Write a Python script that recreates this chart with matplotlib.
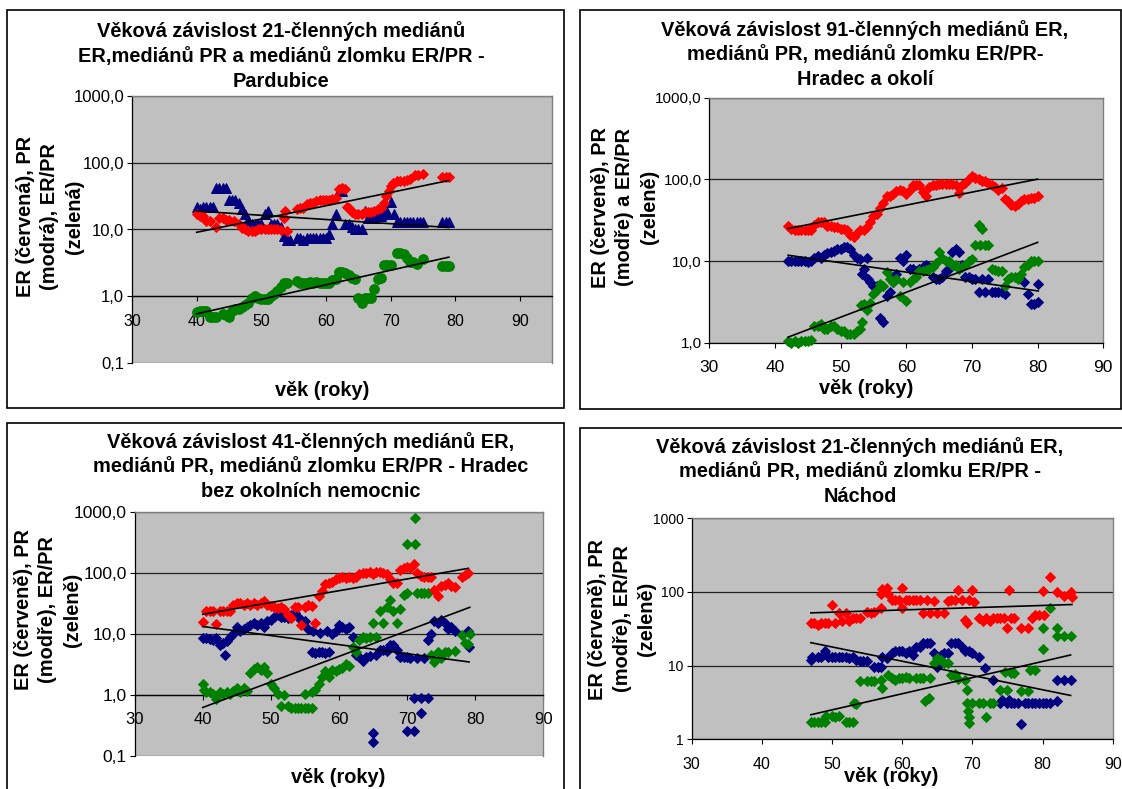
import numpy as np
import matplotlib
matplotlib.use("Agg")
import matplotlib.pyplot as plt
from matplotlib.patches import Rectangle
from matplotlib.ticker import FixedLocator, FixedFormatter, NullLocator

plt.rcParams['font.family'] = ['Liberation Sans', 'DejaVu Sans']

W, H = 1122, 789

# (věk, hodnota) -- klouzavé mediány
p1_er = [(40,17),(40.5,16),(41,16),(41.5,13.5),(42,13.5),(43,11),(43.5,15),(44,15),(44.5,14),(45,14),(45.8,13.5),(46.5,12),(47,10.5),(47.5,10),(48,9.5),(48.5,9.4),(49,9.4),(49.5,10),(50,10),(50.5,10),(51,10),(51.5,10),(52,10),(52.5,10),(53,9.8),(53.5,15),(53.6,19),(54,9.5),(55.5,20),(56,21),(56.5,21),(57,24),(57.5,25),(58,25),(58.5,27),(59,28),(59.5,28),(60,28),(60.5,28),(61,29),(61.5,30),(62,40),(62.5,42),(63,40),(63.2,22),(63.5,21),(64,18),(64.5,17),(65,17),(65.5,17),(66,18),(66.5,18),(67,18),(67.5,19),(68,20),(68.5,21),(69,25),(69.3,32),(69.7,38),(70,45),(70.3,50),(71,53),(71.5,53),(72,53),(72.5,55),(73,56),(73.7,65),(74.2,65),(75,67),(78,60),(78.5,60),(79,60)]
p1_pr = [(40,22),(40.5,20),(41,22),(41.5,22),(42,22),(42.5,22),(43,42),(43.5,42),(44,42),(44.5,42),(45,28),(45.5,28),(46,28),(46.5,25),(47,20),(47.5,17),(48,14),(48.5,12),(49,12),(49.5,12),(50,12),(50.5,17),(51,19),(51.5,12),(52,12),(52.5,12),(53,11),(53.5,8),(54,7),(54.5,7),(55.5,7.5),(56,7.5),(56.5,7),(57,7.5),(57.5,7.5),(58,7.5),(58.5,7.5),(59,7.5),(59.5,7.5),(60,7.5),(60.5,8.5),(61,12),(61.5,17),(62,38),(62.5,38),(63,12),(63.5,12),(64,11),(64.5,10),(65,10),(65.5,10),(66,19),(66.5,15),(67,15),(67.5,15),(68,16),(68.5,16),(69,17),(69.5,18),(70,26),(70.5,17),(71,13),(71.5,13),(72,13),(72.5,13),(73,13),(73.5,13),(74,13),(74.5,13),(75,13),(78,13),(78.5,13),(79,13)]
p1_ratio = [(40,0.58),(40.5,0.6),(41,0.6),(41.5,0.6),(42,0.5),(42.5,0.5),(43,0.5),(44,0.55),(44.5,0.52),(45,0.5),(45.5,0.6),(46,0.65),(46.5,0.65),(47,0.7),(47.5,0.75),(48,0.8),(48.5,0.95),(49,1.0),(49.5,0.95),(50,0.9),(50.5,0.9),(51,0.9),(51.5,1.0),(52,1.1),(52.5,1.2),(53,1.4),(53.5,1.6),(54,1.6),(55.5,1.7),(56,1.6),(56.5,1.6),(57,1.6),(57.5,1.65),(58,1.6),(58.5,1.65),(59,1.6),(59.5,1.6),(60,1.6),(60.5,1.6),(61,1.75),(61.5,1.8),(62,2.3),(62.5,2.3),(63,2.2),(63.5,2.1),(64,1.9),(64.5,1.8),(65,0.95),(65.5,0.8),(66,0.95),(66.5,0.95),(67,0.95),(67.5,1.3),(68,1.8),(68.5,1.9),(69,2.9),(69.5,2.9),(70,2.9),(71,4.5),(71.5,4.5),(72,4.3),(72.5,3.8),(73,3.3),(73.5,3.3),(74,3.0),(75,3.6),(78,2.8),(78.5,2.8),(79,2.8)]

p2_er = [(42,27),(42.5,25),(43,24),(43.5,24),(44,24),(44.5,24),(45,24),(45.5,24),(46,28),(46.5,30),(47,30),(47.5,30),(48,27),(48.5,27),(49,26),(49.5,26),(50,25),(50.5,25),(51,24),(51.5,21),(52,20),(52.5,22),(53,24),(53.5,24),(54,26),(54.5,30),(55,36),(55.5,38),(56,45),(56.5,52),(57,62),(57.5,63),(58,66),(58.5,72),(59,75),(59.5,72),(60,67),(60.5,75),(61,85),(61.5,86),(62,85),(62.5,70),(63,62),(63.5,80),(64,85),(64.5,86),(65,87),(65.5,88),(66,88),(66.5,88),(67,88),(67.5,85),(68,68),(68.5,85),(69,90),(69.5,100),(70,110),(70.5,105),(71,100),(71.5,95),(72,95),(72.5,90),(73,85),(73.5,80),(74,75),(74.5,78),(75,58),(75.5,55),(76,48),(76.5,47),(77,50),(77.5,55),(78,58),(78.5,58),(79,60),(79.5,60),(80,62)]
p2_pr = [(42,10),(42.5,10),(43,10),(43.5,10),(44,10),(44.5,10),(45,9.8),(45.5,10),(46,11),(46.5,11.5),(47,11),(47.5,12),(48,12.5),(48.5,13),(49,13.5),(49.5,14),(50,14),(50.5,15),(51,15),(51.5,14),(52,12),(52.5,11),(53,10.5),(53.2,7),(53.5,8),(54,11),(54.2,6),(54.5,5.5),(55,5),(55.5,5),(56,2),(56.5,1.8),(57,3.8),(57.5,4.2),(58,5.5),(58.5,7),(59,11),(59.5,10),(60,12),(60.5,8),(61,8),(61.5,7.5),(62,8),(62.5,8.5),(63,9),(63.5,8.5),(64,6.5),(64.5,6),(65,6),(65.5,6.5),(66,7.5),(66.5,8),(67,13),(67.5,14),(68,13),(68.5,9),(69,6.5),(69.5,6.5),(70,6),(70.5,6),(71,4.2),(71.5,6),(72,4.2),(72.5,6),(73,4.2),(73.5,4.2),(74,4.2),(74.5,4.2),(75,4),(78,5.5),(78.5,4),(79,3),(79.5,3),(80,5.3),(80.1,3.2)]
p2_ratio = [(42,1.05),(42.5,1.0),(43,1.05),(43.5,1.0),(44,1.05),(44.5,1.05),(45,1.05),(45.5,1.1),(46,1.6),(46.5,1.6),(47,1.7),(47.5,1.5),(48,1.5),(48.5,1.6),(49,1.6),(49.5,1.5),(50,1.4),(50.5,1.4),(51,1.3),(51.5,1.3),(52,1.3),(52.5,1.4),(53,1.5),(53.3,1.8),(53.1,2.9),(53.6,3.0),(54,2.5),(54.5,3.1),(55,4.0),(55.5,4.5),(56,5.2),(56.5,5.0),(57,7.3),(57.5,6),(58,5.5),(58.5,6),(59,3.8),(59.5,5.5),(60,3.3),(60.5,5.5),(61,6),(61.5,6.5),(62,7.5),(62.5,7.5),(63,7.8),(63.5,8),(64,8.5),(64.5,9.5),(65,13),(65.5,11),(66,10),(66.5,10),(67,9),(67.5,9),(68,8),(68.5,8.5),(69,9),(69.5,10),(70,10.5),(70.5,16),(71,28),(71.5,25),(71.2,16),(72,16),(72.5,16),(73,8),(73.5,7.8),(74,7.5),(74.5,7.5),(75,5),(75.5,6),(76,6.5),(76.5,6.5),(77,6),(77.5,7),(78,8.5),(78.5,9),(79,10),(79.5,10),(80,10)]

p3_er = [(40,15.5),(40.5,24),(41,24),(41.5,24),(42,14.5),(42.5,24),(43,24),(43.5,24),(44,24),(44.5,30),(45,32),(45.5,32),(46,30),(46.5,32),(47,30),(47.5,32),(48,30),(48.5,32),(49,34),(49.5,30),(50,29),(50.5,28),(51,27),(51.5,28),(52,26),(52.5,20),(53,18),(53.5,28),(54,28),(54.5,14),(55,28),(55.5,30),(56,29),(56.5,15),(57,42),(57.5,50),(58,65),(58.5,68),(59,70),(59.5,80),(60,82),(60.5,85),(61,82),(61.5,85),(62,82),(62.5,86),(63,95),(63.5,100),(64,100),(64.5,104),(65,95),(65.5,104),(66,104),(66.5,100),(67,95),(67.5,80),(68,67),(68.5,67),(69,110),(69.5,120),(70,125),(70.5,120),(71,140),(71.5,100),(72,90),(72.5,86),(73,86),(73.5,86),(74,52),(74.5,42),(75,60),(75.5,62),(76,68),(76.5,60),(77,58),(78,86),(78.5,92),(79,98)]
p3_pr = [(40,8.4),(40.5,8.4),(41,8.2),(41.5,8.0),(42,8.4),(42.5,6.5),(43,7),(43.2,4.5),(43.5,7.5),(44,9),(44.5,10),(45,13),(45.5,11),(46,12),(46.5,13),(47,14),(47.5,15),(48,14),(48.5,15),(49,13),(49.5,16),(50,17),(50.5,19),(51,20),(51.5,19),(52,19),(52.5,18),(53,20),(53.5,22),(54,19),(54.5,17),(55,16),(55.5,12),(56,5),(56.5,4.8),(57,5),(57.5,5),(58,4.8),(58.5,5),(56.2,11),(57.2,10.5),(58.2,11),(59,10),(59.5,11),(60,14),(60.5,13),(61,12),(61.5,13),(62,9),(62.5,4.5),(63,4.2),(63.5,3.6),(64,4.2),(64.5,4.4),(65,0.24),(65.05,0.17),(65.5,4.5),(66,5.5),(66.5,5.5),(67,5.2),(67.5,6.5),(68,6.5),(68.5,5.5),(69,4.2),(69.5,4.2),(70,4.2),(70.05,0.26),(70.5,4.0),(71,0.9),(71.05,0.26),(71.5,4.0),(72,0.9),(72.05,0.5),(72.5,4.0),(73,0.9),(73.05,8),(73.5,10),(74,16),(74.5,15),(75,17),(75.5,15),(76,12),(76.5,13),(77,11),(79,11),(79.1,6)]
p3_ratio = [(40,1.5),(40.2,1.2),(40.5,1.1),(41,1.1),(41.5,1.05),(42,0.85),(42.5,1.1),(43,1.05),(43.5,1.1),(44,1.05),(44.5,1.15),(45,1.3),(45.5,1.1),(46,1.3),(46.5,1.15),(47,2.3),(47.5,2.7),(48,2.9),(48.5,2.6),(49,2.9),(49.5,2.3),(50,1.5),(50.5,1.3),(51,1.05),(51.5,0.65),(52,1.0),(52.5,0.65),(53,0.62),(53.5,0.62),(54,0.62),(54.5,0.62),(55,0.62),(55.05,1.05),(55.5,0.62),(56,0.62),(56.05,1.1),(56.5,1.2),(57,1.5),(57.5,2.0),(58,2.5),(58.5,2.0),(59,2.6),(59.5,2.5),(60,2.7),(60.5,2.8),(61,3.2),(61.5,3.0),(62,6),(62.5,5),(63,8),(63.5,9),(64,8.5),(64.5,9),(65,15),(65.5,9),(66,24),(66.5,15),(67,28),(67.5,36),(68,24),(68.5,15),(69,26),(69.5,44),(70,46),(70.05,300),(71.2,300),(71.1,800),(71.5,46),(72,46),(72.5,46),(73,46),(73.5,4.5),(74,3.4),(74.5,5),(75,4),(75.5,5),(76,5),(77,5.2),(78,9.5),(78.5,7),(79,6.8),(79.2,10)]

p4_er = [(47,38),(47.5,38),(48,36),(48.5,38),(49,38),(49.5,38),(50,66),(50.5,38),(51,52),(51.5,40),(52,52),(52.5,40),(53,44),(53.5,44),(54,44),(55,54),(55.5,52),(56,54),(57,60),(57.05,95),(57.2,110),(57.8,112),(58,95),(58.5,78),(59,78),(59.5,78),(60,112),(60.05,60),(60.5,78),(61,78),(61.5,78),(62,78),(62.5,78),(63,52),(63.5,78),(64,52),(64.5,75),(65,52),(66,52),(66.5,75),(67,78),(67.5,78),(68,108),(68.5,78),(69,42),(69.2,38),(69.5,78),(70,108),(70.2,72),(71,44),(71.5,40),(72,44),(72.5,40),(73,44),(73.5,44),(74,44),(74.5,44),(75,32),(75.2,106),(75.5,44),(76,44),(77,32),(78,32),(78.5,44),(79,48),(79.5,48),(80,104),(80.2,48),(81,158),(82,101),(83,88),(84,100),(84.2,86)]
p4_pr = [(47,12),(47.2,13.3),(48,13.3),(48.5,13.3),(49,16),(49.5,13.3),(50,13.3),(50.5,13.3),(51,13),(51.5,13.3),(52,13.3),(52.5,12.5),(53,13),(53.5,12),(54,11.6),(54.5,11.6),(55,11.6),(56,9.7),(56.5,9.7),(57,9.7),(57.2,13),(57.8,12.6),(58.5,15),(59,16),(59.5,16),(60,16),(60.5,15),(61,16),(61.5,14),(62,18),(62.5,18),(63,20),(63.5,20),(64,20),(64.5,14.7),(65,9.7),(65.5,14),(66,14.7),(66.5,14.7),(67,20),(67.5,20),(68,20),(68.5,18),(69,16),(69.5,16),(70,15),(71,13.3),(71.8,9.2),(73,6.4),(74,3.1),(74.2,3.4),(75,3.1),(75.2,3.4),(75.5,3.1),(76,3.1),(76.5,3.1),(77,1.6),(77.5,3.1),(78,3.1),(78.5,3.1),(79,3.1),(79.5,3.1),(80,3.1),(80.5,3.1),(81,3.1),(82,3.3),(82.1,6.3),(83,6.3),(84,6.3)]
p4_ratio = [(47,1.7),(47.5,1.7),(48,1.7),(48.5,1.7),(49,1.7),(49.2,2.1),(50,2.1),(50.5,2.0),(51,2.1),(52,1.7),(52.5,1.7),(53,1.7),(53.1,3.1),(53.5,3.0),(54,6.1),(55,6.1),(55.5,6.1),(56,6.1),(57,6.3),(57.1,4.9),(58,7.5),(58.5,6.7),(59,6.3),(59.5,6.7),(60,6.7),(60.5,7.0),(61,6.7),(62,6.7),(62.5,6.7),(63,6.7),(63.2,3.3),(63.8,3.6),(64,6.7),(64.5,11),(65,12.5),(65.5,12),(66,11),(66.5,11),(67,7.5),(67.5,7.8),(68,6.5),(69,6.4),(69.2,4.7),(69.3,3.1),(69.4,2.4),(69.5,2.0),(69.6,1.65),(70,3.1),(71,3.1),(71.5,3.1),(72,2.0),(72.5,3.1),(73,3.1),(74,4.7),(74.7,8.3),(75,4.7),(75.5,8),(76,8),(77,4.5),(78,4.5),(78.2,8.7),(79,8.7),(80,17),(80.1,32),(81,60),(82,32),(82.1,25),(83,25),(84,25)]

age_ticks = [30, 40, 50, 60, 70, 80, 90]
ylab_dec = ['0,1', '1,0', '10,0', '100,0', '1000,0']
ylab_int = ['1', '10', '100', '1000']

titles = [
    "Věková závislost 21-členných mediánů\nER,mediánů PR a mediánů zlomku ER/PR -\nPardubice",
    "Věková závislost 91-členných mediánů ER,\nmediánů PR, mediánů zlomku ER/PR-\nHradec a okolí",
    "Věková závislost 41-členných mediánů ER,\nmediánů PR, mediánů zlomku ER/PR - Hradec\nbez okolních nemocnic",
    "Věková závislost 21-členných mediánů ER,\nmediánů PR, mediánů zlomku ER/PR -\nNáchod",
]
ylabels = [
    "ER (červená), PR\n(modrá), ER/PR\n(zelená)",
    "ER (červeně), PR\n(modře) a ER/PR\n(zeleně)",
    "ER (červeně), PR\n(modře), ER/PR\n(zeleně)",
    "ER (červeně), PR\n(modře), ER/PR\n(zeleně)",
]
xlabel = "věk (roky)"

RED, BLUE, GREEN = '#ff0000', '#000080', '#008000'

fig = plt.figure(figsize=(W / 100, H / 100), dpi=100)


def px_axes(x0, y0, x1, y1):
    return fig.add_axes([x0 / W, 1 - y1 / H, (x1 - x0) / W, (y1 - y0) / H])


def frame(x0, y0, x1, y1):
    fig.add_artist(Rectangle((x0 / W, 1 - y1 / H), (x1 - x0) / W, (y1 - y0) / H,
                             transform=fig.transFigure, fill=False,
                             ec='black', lw=1.2, clip_on=False))


def ptext(x, y, s, **kw):
    fig.text(x / W, 1 - y / H, s, **kw)


def series(ax, pts, color, marker, ms):
    age, val = zip(*pts)
    ax.plot(age, val, ls='none', marker=marker, ms=ms, color=color,
            mec=color, mew=0.7, zorder=3, clip_on=False)


def trend(ax, pts):
    # exponenciální trend = přímka v log měřítku
    age, val = map(np.asarray, zip(*pts))
    k, q = np.polyfit(age, np.log(val), 1)
    xs = np.array([age.min(), age.max()])
    ax.plot(xs, np.exp(q + k * xs), color='black', lw=1.2, zorder=4)


def style(ax, xmax, ymin, ylab, ysize, xsize, cross_at_one):
    ax.set_facecolor('#c0c0c0')
    ax.set_yscale('log')
    ax.set_xlim(30, xmax)
    ax.set_ylim(ymin, 1000)
    yt = [10.0 ** e for e in range(int(round(np.log10(ymin))), 4)]
    ax.yaxis.set_major_locator(FixedLocator(yt))
    ax.yaxis.set_major_formatter(FixedFormatter(ylab))
    ax.yaxis.set_minor_locator(NullLocator())
    ax.set_xticks(age_ticks)
    ax.set_xticklabels([str(a) for a in age_ticks])
    ax.grid(axis='y', color='#202020', lw=0.9)
    ax.set_axisbelow(True)
    for s in ('top', 'right'):
        ax.spines[s].set_color('#808080')
        ax.spines[s].set_linewidth(1.0)
    ax.spines['left'].set_linewidth(0.9)
    ax.spines['bottom'].set_linewidth(0.9)
    if cross_at_one:
        ax.spines['bottom'].set_position(('data', 1))
    ax.tick_params(axis='y', direction='out', length=3.6, width=0.8,
                   labelsize=ysize, pad=2)
    ax.tick_params(axis='x', direction='out', length=3.6, width=0.8,
                   labelsize=xsize, pad=9)


# rámečky grafů
frame(7, 10, 564, 408)
frame(580, 10, 1121, 409)
frame(7, 423, 564, 820)
frame(580, 428, 1140, 820)

DM = 5.1  # velikost kosočtverce

# Pardubice
ax1 = px_axes(132, 95.7, 552.3, 363.3)
style(ax1, 95, 0.1, ylab_dec, 12, 11.5, True)
series(ax1, p1_pr, BLUE, '^', 7.6)
series(ax1, p1_ratio, GREEN, 'o', 7)
series(ax1, p1_er, RED, 'D', DM)
for pts in (p1_er, p1_pr, p1_ratio):
    trend(ax1, pts)

# Hradec a okolí
ax2 = px_axes(709.3, 97.6, 1103.3, 343.0)
style(ax2, 90, 1, ylab_dec[1:], 11, 12.5, False)
series(ax2, p2_pr, BLUE, 'D', DM)
series(ax2, p2_ratio, GREEN, 'D', DM)
series(ax2, p2_er, RED, 'D', DM)
for pts in (p2_er, p2_pr, p2_ratio):
    trend(ax2, pts)

# Hradec bez okolních nemocnic
ax3 = px_axes(134.6, 511.7, 543.3, 756.0)
style(ax3, 90, 0.1, ylab_dec, 12.5, 12, True)
series(ax3, p3_pr, BLUE, 'D', DM)
series(ax3, p3_ratio, GREEN, 'D', DM)
series(ax3, p3_er, RED, 'D', DM)
for pts in (p3_er, p3_pr, p3_ratio):
    trend(ax3, pts)

# Náchod
ax4 = px_axes(691.5, 518.3, 1112.7, 739.3)
style(ax4, 90, 1, ylab_int, 10, 11.5, False)
series(ax4, p4_pr, BLUE, 'D', DM)
series(ax4, p4_ratio, GREEN, 'D', DM)
series(ax4, p4_er, RED, 'D', DM)
for pts in (p4_er, p4_pr, p4_ratio):
    trend(ax4, pts)

bold = dict(fontsize=14.4, fontweight='bold', linespacing=1.37)
title_pos = [(281, 56), (865, 54.4), (311, 466.5), (860, 471.2)]
ylab_pos = [(50, 216.5), (625, 207), (47.7, 609.6), (622, 619)]
xlab_pos = [(322, 390.4), (866, 388), (338, 777.8), (891, 776.3)]
for t, (x, y) in zip(titles, title_pos):
    ptext(x, y, t, ha='center', va='center', ma='center', **bold)
for t, (x, y) in zip(ylabels, ylab_pos):
    ptext(x, y, t, ha='center', va='center', ma='center', rotation=90, **bold)
for (x, y) in xlab_pos:
    ptext(x, y, xlabel, ha='center', va='center', **bold)

fig.savefig('out.png', dpi=100)
